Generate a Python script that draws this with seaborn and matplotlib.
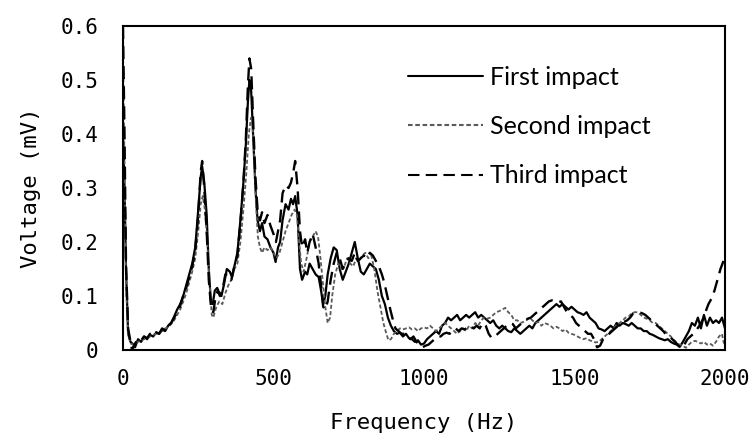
import matplotlib
matplotlib.use("Agg")
import matplotlib.pyplot as plt
import seaborn as sns
import numpy as np

# ---------------- data ----------------
first_f = [0,5,10,17,25,35,40,50,60,70,80,90,100,110,120,130,140,150,160,170,180,190,200,210,220,230,240,250,258,263,270,278,285,292,298,305,313,320,327,335,345,355,362,372,380,390,400,408,415,420,425,432,440,447,455,462,470,480,490,500,507,515,522,530,540,550,558,565,572,580,588,595,605,612,620,630,640,650,658,665,672,680,690,700,710,720,730,740,750,760,770,780,790,800,810,820,830,840,850,860,870,880,890,900,910,920,930,940,950,960,970,980,990,1000,1010,1020,1030,1040,1050,1060,1070,1080,1090,1100,1110,1120,1130,1140,1150,1160,1170,1180,1190,1200,1210,1220,1230,1240,1250,1260,1270,1280,1290,1300,1310,1320,1330,1340,1350,1360,1370,1380,1390,1400,1410,1420,1430,1440,1450,1460,1470,1480,1490,1500,1510,1520,1530,1540,1550,1560,1570,1580,1590,1600,1610,1620,1630,1640,1650,1660,1670,1680,1690,1700,1710,1720,1730,1740,1750,1760,1770,1780,1790,1800,1810,1820,1830,1840,1850,1860,1870,1880,1890,1900,1910,1920,1930,1940,1950,1960,1970,1980,1990,2000]
first_v = [0.40,0.30,0.15,0.03,0.015,0.01,0.005,0.02,0.015,0.025,0.02,0.028,0.025,0.032,0.03,0.038,0.035,0.045,0.05,0.062,0.075,0.085,0.10,0.12,0.14,0.16,0.19,0.26,0.32,0.34,0.31,0.25,0.15,0.09,0.085,0.11,0.115,0.105,0.10,0.12,0.15,0.145,0.135,0.16,0.18,0.24,0.31,0.38,0.46,0.50,0.49,0.40,0.30,0.24,0.22,0.235,0.21,0.205,0.19,0.18,0.163,0.19,0.20,0.24,0.27,0.26,0.28,0.27,0.285,0.25,0.15,0.13,0.145,0.14,0.16,0.15,0.14,0.135,0.11,0.085,0.10,0.14,0.17,0.19,0.185,0.15,0.13,0.145,0.16,0.18,0.20,0.17,0.145,0.14,0.15,0.16,0.155,0.15,0.13,0.10,0.085,0.06,0.045,0.035,0.03,0.032,0.025,0.03,0.022,0.02,0.015,0.018,0.01,0.012,0.02,0.025,0.03,0.035,0.03,0.045,0.05,0.06,0.055,0.06,0.065,0.055,0.06,0.065,0.06,0.065,0.07,0.06,0.065,0.06,0.055,0.05,0.055,0.045,0.04,0.045,0.04,0.035,0.033,0.04,0.035,0.03,0.035,0.04,0.045,0.04,0.05,0.055,0.06,0.065,0.07,0.075,0.08,0.085,0.08,0.085,0.08,0.075,0.08,0.075,0.07,0.068,0.065,0.07,0.06,0.055,0.05,0.04,0.038,0.035,0.04,0.045,0.04,0.05,0.045,0.05,0.048,0.045,0.05,0.045,0.04,0.04,0.035,0.035,0.03,0.028,0.025,0.022,0.02,0.018,0.02,0.015,0.012,0.01,0.006,0.015,0.025,0.035,0.05,0.045,0.06,0.04,0.065,0.045,0.06,0.05,0.055,0.05,0.06,0.04]

second_f = [0,5,10,17,25,35,50,60,70,80,90,100,110,120,130,140,150,160,170,180,190,200,210,220,230,240,250,258,265,272,280,288,295,300,310,320,330,340,350,360,370,380,390,400,410,418,425,430,436,442,448,455,462,470,480,490,500,510,520,530,540,550,560,570,578,585,592,600,610,620,630,640,648,656,665,672,680,688,695,705,715,725,735,745,755,765,775,785,795,805,815,825,835,845,855,865,875,882,890,900,910,920,930,940,950,960,970,980,990,1000,1010,1020,1030,1040,1050,1060,1070,1080,1090,1100,1110,1120,1130,1140,1150,1160,1170,1180,1190,1200,1210,1220,1230,1240,1250,1260,1270,1280,1290,1300,1310,1320,1330,1340,1350,1360,1370,1380,1390,1400,1410,1420,1430,1440,1450,1460,1470,1480,1490,1500,1510,1520,1530,1540,1550,1560,1570,1580,1590,1600,1610,1620,1630,1640,1650,1660,1670,1680,1690,1700,1710,1720,1730,1740,1750,1760,1770,1780,1790,1800,1810,1820,1830,1840,1850,1860,1870,1880,1890,1900,1910,1920,1930,1940,1950,1960,1970,1980,1990,1995,2000]
second_v = [0.55,0.35,0.12,0.03,0.012,0.01,0.015,0.018,0.02,0.022,0.025,0.028,0.03,0.032,0.035,0.04,0.042,0.048,0.055,0.065,0.075,0.09,0.105,0.125,0.145,0.17,0.22,0.27,0.285,0.26,0.20,0.12,0.065,0.06,0.08,0.09,0.085,0.105,0.12,0.13,0.15,0.16,0.20,0.26,0.33,0.40,0.43,0.42,0.36,0.27,0.21,0.19,0.18,0.19,0.185,0.19,0.18,0.17,0.18,0.20,0.22,0.235,0.25,0.26,0.25,0.20,0.16,0.145,0.17,0.20,0.21,0.22,0.21,0.17,0.12,0.08,0.05,0.06,0.10,0.14,0.16,0.15,0.155,0.17,0.16,0.155,0.17,0.165,0.175,0.18,0.17,0.175,0.15,0.11,0.08,0.05,0.03,0.018,0.02,0.03,0.035,0.04,0.038,0.04,0.042,0.038,0.04,0.035,0.04,0.042,0.04,0.045,0.04,0.035,0.04,0.045,0.05,0.045,0.04,0.035,0.03,0.035,0.04,0.035,0.045,0.04,0.05,0.045,0.055,0.06,0.058,0.06,0.065,0.07,0.072,0.075,0.078,0.07,0.065,0.055,0.055,0.05,0.052,0.055,0.06,0.055,0.05,0.052,0.045,0.05,0.048,0.045,0.04,0.043,0.04,0.035,0.038,0.032,0.03,0.028,0.025,0.022,0.02,0.022,0.018,0.016,0.014,0.015,0.02,0.025,0.03,0.035,0.04,0.047,0.05,0.055,0.06,0.062,0.068,0.07,0.07,0.065,0.06,0.058,0.055,0.05,0.05,0.045,0.04,0.035,0.03,0.025,0.018,0.012,0.01,0.008,0.004,0.01,0.015,0.017,0.015,0.012,0.015,0.01,0.012,0.008,0.015,0.025,0.03,0.015,0.01]

third_f = [0,5,10,17,25,30,40,50,60,70,80,90,100,110,120,130,140,150,160,170,180,190,200,210,220,230,240,250,258,263,270,278,285,293,300,308,315,322,330,340,350,360,370,380,390,400,408,415,420,426,432,440,447,455,462,470,480,490,500,508,515,522,530,540,550,558,566,572,580,588,595,605,612,620,630,640,650,658,665,672,680,690,700,710,720,730,740,750,760,770,780,790,800,810,820,830,840,850,860,868,878,888,897,905,915,925,935,945,955,965,975,985,995,1005,1015,1025,1035,1045,1055,1065,1075,1085,1095,1105,1115,1125,1135,1145,1155,1165,1175,1185,1195,1205,1215,1225,1235,1245,1255,1265,1275,1285,1295,1305,1315,1325,1335,1345,1355,1365,1375,1385,1395,1405,1415,1425,1435,1445,1455,1465,1475,1485,1495,1505,1515,1525,1535,1545,1555,1565,1575,1585,1595,1605,1615,1625,1635,1645,1655,1665,1675,1685,1695,1705,1715,1725,1735,1745,1755,1765,1775,1785,1795,1805,1815,1825,1835,1845,1855,1865,1875,1885,1895,1905,1915,1925,1935,1945,1955,1965,1975,1985,1995,2000]
third_v = [0.60,0.40,0.16,0.04,0.015,0.0,0.012,0.02,0.018,0.025,0.022,0.03,0.027,0.033,0.03,0.04,0.036,0.045,0.05,0.06,0.07,0.082,0.10,0.115,0.135,0.155,0.185,0.25,0.33,0.35,0.30,0.22,0.13,0.075,0.07,0.10,0.11,0.10,0.11,0.14,0.14,0.13,0.155,0.175,0.235,0.31,0.39,0.49,0.54,0.52,0.43,0.32,0.26,0.24,0.255,0.235,0.25,0.23,0.215,0.20,0.22,0.24,0.29,0.305,0.30,0.31,0.33,0.35,0.30,0.22,0.19,0.205,0.18,0.20,0.215,0.19,0.16,0.12,0.08,0.075,0.09,0.13,0.16,0.18,0.17,0.15,0.16,0.17,0.165,0.18,0.165,0.17,0.175,0.17,0.18,0.175,0.165,0.155,0.14,0.125,0.10,0.075,0.055,0.04,0.035,0.03,0.03,0.025,0.02,0.025,0.015,0.01,0.005,0.008,0.01,0.015,0.02,0.025,0.025,0.03,0.032,0.03,0.035,0.04,0.035,0.04,0.038,0.042,0.045,0.04,0.045,0.04,0.05,0.045,0.03,0.022,0.025,0.03,0.035,0.04,0.045,0.05,0.048,0.04,0.045,0.05,0.055,0.058,0.06,0.065,0.07,0.075,0.08,0.085,0.09,0.092,0.09,0.088,0.09,0.08,0.07,0.065,0.06,0.05,0.045,0.04,0.035,0.03,0.03,0.02,0.005,0.008,0.02,0.025,0.03,0.035,0.04,0.045,0.05,0.052,0.055,0.06,0.068,0.07,0.07,0.068,0.065,0.06,0.055,0.05,0.045,0.04,0.035,0.028,0.025,0.02,0.015,0.008,0.003,0.01,0.02,0.025,0.03,0.037,0.045,0.055,0.07,0.085,0.095,0.11,0.13,0.15,0.165,0.175]

series_names = ["First impact", "Second impact", "Third impact"]
x_ticks = [0, 500, 1000, 1500, 2000]
y_ticks = [0, 0.1, 0.2, 0.3, 0.4, 0.5, 0.6]
y_tick_labels = ["0", "0.1", "0.2", "0.3", "0.4", "0.5", "0.6"]

# ---------------- plot ----------------
sns.set_style("white")
plt.rcParams['font.family'] = ['DejaVu Sans Mono', 'DejaVu Sans']
plt.rcParams['text.color'] = 'black'
plt.rcParams['axes.labelcolor'] = 'black'

fig = plt.figure(figsize=(7.52, 4.37), dpi=100)
ax = fig.add_axes([123/752, 1 - 350/437, (725-123)/752, (350-26)/437])

sns.lineplot(x=first_f, y=first_v, ax=ax, color="black", lw=1.6,
             label=series_names[0], estimator=None, sort=False)
sns.lineplot(x=second_f, y=second_v, ax=ax, color="#5a5a5a", lw=1.3,
             label=series_names[1], estimator=None, sort=False, dashes=False)
sns.lineplot(x=third_f, y=third_v, ax=ax, color="black", lw=1.7,
             label=series_names[2], estimator=None, sort=False, dashes=False)
lines = ax.get_lines()
lines[1].set_dashes((2.2, 1.3))
lines[2].set_dashes((5.5, 3.0))

ax.set_xlim(0, 2000)
ax.set_ylim(0, 0.6)
ax.set_xticks(x_ticks)
ax.set_xticklabels([str(t) for t in x_ticks])
ax.set_yticks(y_ticks)
ax.set_yticklabels(y_tick_labels)
ax.tick_params(axis='both', direction='in', length=6, width=1.5, colors='black',
               labelsize=15)
ax.tick_params(axis='y', pad=18)
ax.tick_params(axis='x', pad=14)
for s in ax.spines.values():
    s.set_visible(True)
    s.set_color('black')
    s.set_linewidth(1.5)

ax.set_xlabel("Frequency (Hz)", fontsize=16, labelpad=17, color='black')
ax.set_ylabel("Voltage (mV)", fontsize=16, labelpad=14, color='black')

leg = ax.legend(loc='upper left', bbox_to_anchor=((408-123)/602, (350-66)/324),
                frameon=False, borderaxespad=0, borderpad=0,
                handlelength=3.0, handletextpad=0.3, labelspacing=1.05,
                prop={'family': 'Lato', 'size': 18})
for h in leg.get_lines():
    h.set_linewidth(1.5)

fig.savefig("out.png", dpi=100)
